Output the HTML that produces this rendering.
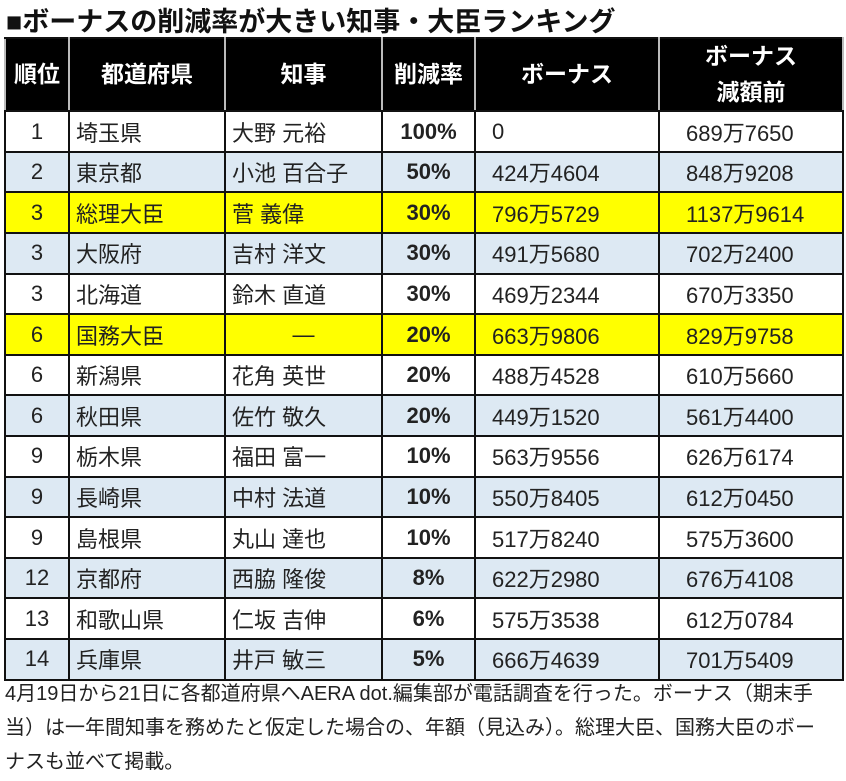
<!DOCTYPE html>
<html><head><meta charset="utf-8"><style>
body{margin:0;width:846px;height:781px;background:#fff;font-family:"Liberation Sans","Noto Sans CJK JP",sans-serif;overflow:hidden;position:relative}
#title{position:absolute;left:6px;top:0px;font-size:27px;font-weight:bold;color:#111;white-space:nowrap}
table{position:absolute;left:4px;top:37px;border-collapse:collapse;table-layout:fixed;width:838px}
td,th{border:2px solid #111;font-size:22px;height:38.6px;padding:0;white-space:nowrap;color:#222}
th{background:#000;color:#fff;font-weight:bold;font-size:23px;height:69px;border-left-color:#bbb;border-right-color:#bbb;line-height:1.55}
td.c{text-align:center}td.l{padding-left:6px}td.b{text-align:center;font-weight:bold}td.m{padding-left:16px}td.n{padding-left:26px}
tr.w td{background:#fff}tr.u td{background:#dde9f3}tr.y td{background:#ffff00}
#note{position:absolute;left:5px;top:677px;width:810px;font-size:20px;line-height:34px;color:#222}
</style></head><body>
<div id="title">■ボーナスの削減率が大きい知事・大臣ランキング</div>
<table>
<colgroup><col style="width:64px"><col style="width:156px"><col style="width:157px"><col style="width:93px"><col style="width:184px"><col style="width:184px"></colgroup>
<thead><tr><th>順位</th><th>都道府県</th><th>知事</th><th>削減率</th><th>ボーナス</th><th>ボーナス<br>減額前</th></tr></thead>
<tbody id="tb"></tbody></table>
<div id="note">4月19日から21日に各都道府県へAERA dot.編集部が電話調査を行った。ボーナス（期末手当）は一年間知事を務めたと仮定した場合の、年額（見込み）。総理大臣、国務大臣のボーナスも並べて掲載。</div>
<script>
const ranks=["1","2","3","3","3","6","6","6","9","9","9","12","13","14"];
const prefs=["埼玉県","東京都","総理大臣","大阪府","北海道","国務大臣","新潟県","秋田県","栃木県","長崎県","島根県","京都府","和歌山県","兵庫県"];
const names=["大野 元裕","小池 百合子","菅 義偉","吉村 洋文","鈴木 直道","—","花角 英世","佐竹 敬久","福田 富一","中村 法道","丸山 達也","西脇 隆俊","仁坂 吉伸","井戸 敏三"];
const rates=["100%","50%","30%","30%","30%","20%","20%","20%","10%","10%","10%","8%","6%","5%"];
const bonus=["0","424万4604","796万5729","491万5680","469万2344","663万9806","488万4528","449万1520","563万9556","550万8405","517万8240","622万2980","575万3538","666万4639"];
const before=["689万7650","848万9208","1137万9614","702万2400","670万3350","829万9758","610万5660","561万4400","626万6174","612万0450","575万3600","676万4108","612万0784","701万5409"];
const styles=["w","u","y","u","w","y","w","u","w","u","w","u","w","u"];
const tb=document.getElementById('tb');
ranks.forEach((r,i)=>{
const tr=document.createElement('tr');
tr.className=styles[i];


const cells=[[r,'c'],[prefs[i],'l'],[names[i],names[i]==='—'?'c':'l'],[rates[i],'b'],[bonus[i],'m'],[before[i],'n']];
cells.forEach(([t,c])=>{const td=document.createElement('td');td.className=c;td.textContent=t;


tr.appendChild(td);});
tb.appendChild(tr);});
</script>
</body></html>
